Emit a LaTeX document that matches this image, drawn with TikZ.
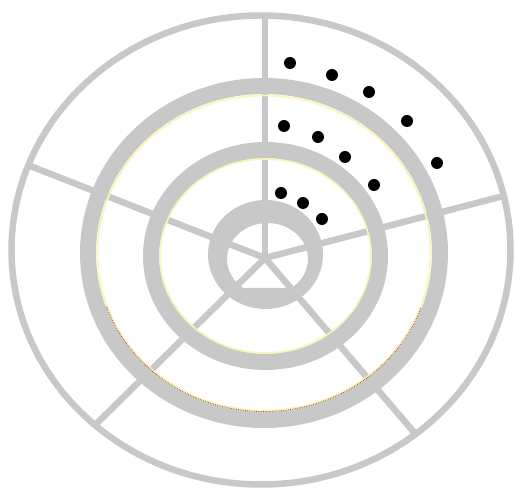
\documentclass[tikz,border=0pt]{standalone}
\definecolor{ringgray}{RGB}{200,200,200}
\definecolor{glow}{RGB}{250,245,175}
\definecolor{rim}{RGB}{150,70,50}
\tikzset{
  spoke/.style={draw=ringgray, line width=6.5pt},
  thinring/.style={draw=ringgray, line width=6.5pt},
  thickring/.style={draw=ringgray, line width=16pt},
  glowline/.style={draw=glow, line width=1.6pt},
  dotmark/.style={fill=black}
}
\begin{document}
\begin{tikzpicture}[x=1pt,y=-1pt]
\useasboundingbox (0,0) rectangle (515,494);
\fill[white] (0,0) rectangle (515,494);
% hub and spoke ends
\coordinate (hub) at (265,258);
\coordinate (sN) at (265,10);
\coordinate (sNE) at (515,193);
\coordinate (sNW) at (20,162);
\coordinate (sSW) at (86,434);
\coordinate (sSE) at (424,444);
\begin{scope}
\clip (261,250) ellipse [x radius=249.5, y radius=234.5];
\draw[spoke] (hub) -- (sN);
\draw[spoke] (hub) -- (sNE);
\draw[spoke] (hub) -- (sNW);
\draw[spoke] (hub) -- (sSW);
\draw[spoke] (hub) -- (sSE);
\end{scope}
% outer circle
\draw[thinring] (261,250) ellipse [x radius=249.5, y radius=234.5];
% ring 2
\draw[glowline] (264,253) ellipse [x radius=166.5, y radius=157.5];
\draw[thickring] (264,253) ellipse [x radius=176, y radius=167];
\draw[rim, line width=0.8pt, densely dotted] (264,253) ++(160:167.5 and 158.5) arc[start angle=160, end angle=20, x radius=167.5, y radius=158.5];
% ring 3
\draw[glowline] (265.5,256) ellipse [x radius=105.5, y radius=97];
\draw[thickring] (265.5,256) ellipse [x radius=114.5, y radius=106];
% inner ring with flat-bottom hole
\fill[ringgray, even odd rule] (265.5,254.5) ellipse [x radius=57.5, y radius=54.5]
  (243.5,288) arc[start angle=126.3, end angle=413.7, x radius=40.5, y radius=36] -- cycle;
% dots
\foreach \p in {(290,63),(332,75),(369,92),(407,121),(437,163),
                (284,126),(318,137),(345,157),(374,185),
                (281,193),(303,203),(322,219)}
  \fill[dotmark] \p circle[radius=6];
\end{tikzpicture}
\end{document}
